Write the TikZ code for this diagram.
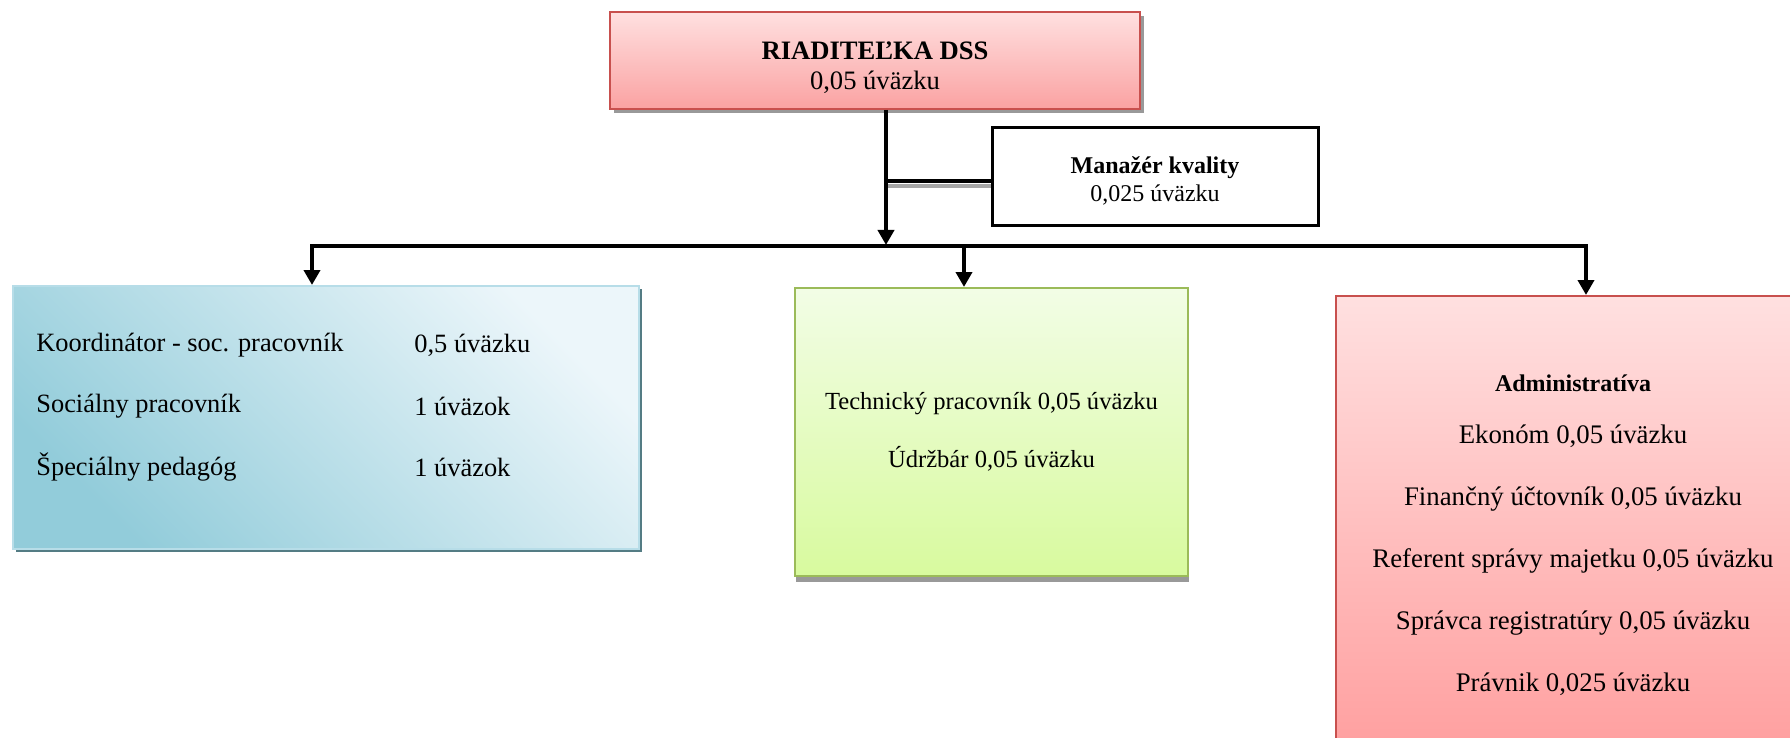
\documentclass[tikz,border=0pt]{standalone}
\usepackage{fontspec}
\setmainfont{Liberation Serif}
\usetikzlibrary{arrows.meta,shadows,positioning}
\definecolor{dirtop}{RGB}{255,224,224}
\definecolor{dirbot}{RGB}{250,162,162}
\definecolor{dirline}{RGB}{200,80,78}
\definecolor{admbot}{RGB}{255,158,158}
\definecolor{soctop}{RGB}{236,246,250}
\definecolor{socbot}{RGB}{146,204,218}
\definecolor{socline}{RGB}{183,221,232}
\definecolor{socshadow}{RGB}{84,124,132}
\definecolor{techtop}{RGB}{242,253,230}
\definecolor{techbot}{RGB}{216,250,158}
\definecolor{techline}{RGB}{155,187,89}

\begin{document}
\begin{tikzpicture}[x=0.5pt, y=-0.5pt]
\tikzstyle{box}=[rectangle, inner sep=0pt, align=center]
\tikzstyle{link}=[line width=2pt, -{Triangle[width=8pt,length=7.5pt]}]
\tikzstyle{row}=[anchor=west, inner sep=0pt, font=\fontsize{13.2}{15}\selectfont]
	\useasboundingbox (0,0) rectangle (1790,738);

	\node[box, minimum width=265pt, minimum height=48.5pt, draw=dirline, line width=1pt,
		top color=dirtop, bottom color=dirbot,
		drop shadow={shadow xshift=2pt, shadow yshift=-2pt, fill=black!40, opacity=1},
		font=\fontsize{13.3}{15}\selectfont] (dir) at (875,60.5) {\rule{0pt}{16pt}\textbf{RIADITEĽKA DSS}\\0,05 úväzku};
	\node[box, minimum width=163pt, minimum height=49pt, draw, line width=1.5pt, fill=white,
		font=\fontsize{12}{14}\selectfont] (mgr) at (1155,177) {\rule{0pt}{12pt}\textbf{Manažér kvality}\\0,025 úväzku};

	\node[box, minimum width=313pt, minimum height=131.5pt, draw=socline, line width=1pt,
		bottom color=socbot, top color=soctop, shading angle=-45,
		drop shadow={shadow xshift=1.5pt, shadow yshift=-1.5pt, fill=socshadow, opacity=1}] (soc) at (326,417.5) {};
	\node[row] (koord) at (36,345) {Koordinátor - soc. pracovník};
	\node[row] (koordU) at (414,345) {0,5 úväzku};
	\node[row] (socp) at (36,406) {Sociálny pracovník};
	\node[row] (socpU) at (414,406) {1 úväzok};
	\node[row] (sped) at (36,467) {Špeciálny pedagóg};
	\node[row] (spedU) at (414,467) {1 úväzok};

	\node[box, minimum width=196.5pt, minimum height=144pt, draw=techline, line width=1pt,
		top color=techtop, bottom color=techbot,
		drop shadow={shadow xshift=0.5pt, shadow yshift=-3pt, fill=black!40, opacity=1},
		font=\fontsize{12.3}{29}\selectfont] (tech) at (991.5,432) {Technický pracovník 0,05 úväzku\\Údržbár 0,05 úväzku};

	\node[box, minimum width=237pt, minimum height=232pt, draw=dirline, line width=1pt,
		top color=dirtop, bottom color=admbot] (adm) at (1573,528) {};
	\node[box, font=\fontsize{13.4}{31}\selectfont] (admtext) at (1573,535)
		{{\fontsize{12}{14}\selectfont\textbf{Administratíva}}\\[-5pt]
		Ekonóm 0,05 úväzku\\
		Finančný účtovník 0,05 úväzku\\
		Referent správy majetku 0,05 úväzku\\
		Správca registratúry 0,05 úväzku\\
		Právnik 0,025 úväzku};

	% connectors
	\coordinate (split) at (886,181);
	\coordinate (hub) at (886,245);
	\coordinate (busL) at (312,246);
	\coordinate (busM) at (964,246);
	\coordinate (busR) at (1586,246);

	\draw[line width=2pt, black!35] ([yshift=-2.5pt]split) -- ([yshift=-2.5pt]split -| mgr.west);
	\draw[line width=2pt] (split) -- (split -| mgr.west);
	\draw[link] (dir.south -| hub) -- (hub);
	\draw[link] (busM) -- (busL) -- (busL |- soc.north);
	\draw[link] (busM) -- (busR) -- (busR |- adm.north);
	\draw[link] (busM) -- (busM |- tech.north);
\end{tikzpicture}
\end{document}
